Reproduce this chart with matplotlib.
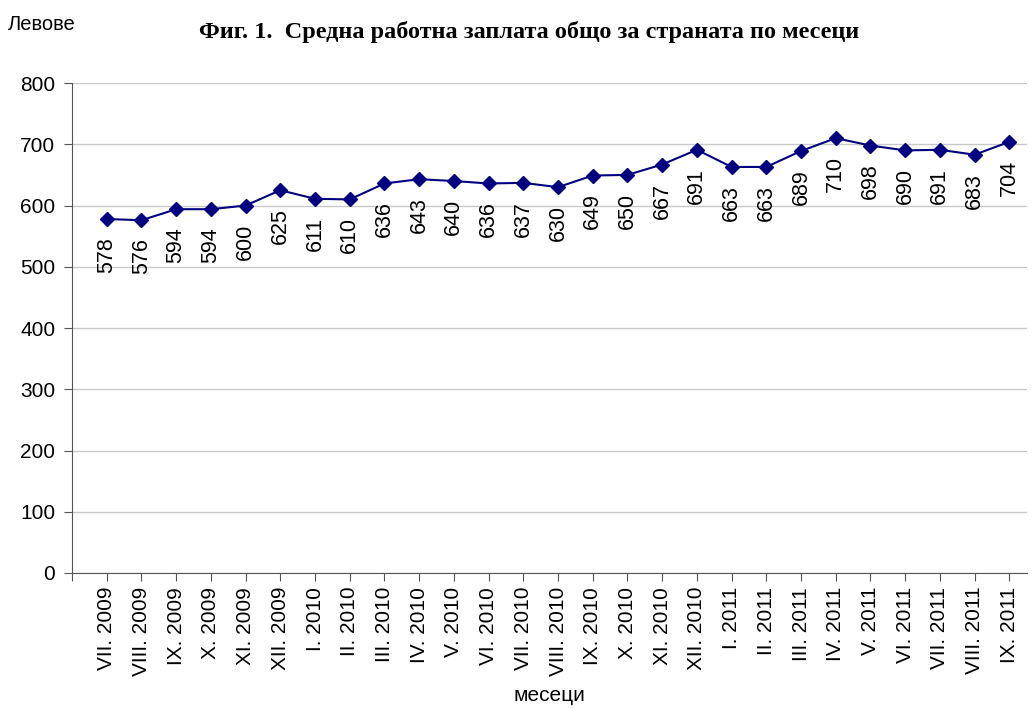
import matplotlib
matplotlib.use("Agg")
import matplotlib.pyplot as plt

months = ["VII. 2009", "VIII. 2009", "IX. 2009", "X. 2009", "XI. 2009", "XII. 2009",
          "I. 2010", "II. 2010", "III. 2010", "IV. 2010", "V. 2010", "VI. 2010",
          "VII. 2010", "VIII. 2010", "IX. 2010", "X. 2010", "XI. 2010", "XII. 2010",
          "I. 2011", "II. 2011", "III. 2011", "IV. 2011", "V. 2011", "VI. 2011",
          "VII. 2011", "VIII. 2011", "IX. 2011"]
salary = [578, 576, 594, 594, 600, 625, 611, 610, 636, 643, 640, 636, 637, 630,
          649, 650, 667, 691, 663, 663, 689, 710, 698, 690, 691, 683, 704]

plt.rcParams["font.family"] = ["Liberation Sans", "DejaVu Sans"]

fig = plt.figure(figsize=(10.32, 7.08), dpi=100)
ax = fig.add_axes([0.0698, 0.1907, 0.925, 0.692])

x = list(range(len(salary)))
ax.plot(x, salary, color="#000080", lw=1.5, marker="D", ms=7, zorder=3)
for xi, v in zip(x, salary):
    ax.annotate(str(v), (xi, v), xytext=(0, -13), textcoords="offset points",
                rotation=90, ha="center", va="top", fontsize=15.5)

ax.set_ylim(0, 800)
ax.set_yticks(range(0, 801, 100))
ax.set_xlim(-1, len(salary) - 0.5)
ax.set_xticks([-1] + x)
ax.set_xticklabels([""] + months, rotation=90, fontsize=15)
ax.tick_params(axis="y", labelsize=15, length=6, color="#555555", pad=6)
ax.tick_params(axis="x", length=6, color="#555555", pad=4)
ax.grid(axis="y", color="#c8c8c8", lw=1)
ax.set_axisbelow(True)
for s in ["top", "right"]:
    ax.spines[s].set_visible(False)
ax.spines["left"].set_color("#555555")
ax.spines["bottom"].set_color("#555555")

ax.set_xlabel("месеци", fontsize=15, labelpad=7)
fig.text(0.008, 0.965, "Левове", fontsize=14.5, ha="left", va="center")
fig.text(0.513, 0.955, "Фиг. 1.  Средна работна заплата общо за страната по месеци",
         family="Liberation Serif", weight="bold", fontsize=17.5, ha="center", va="center")

fig.savefig("out.png", dpi=100)
